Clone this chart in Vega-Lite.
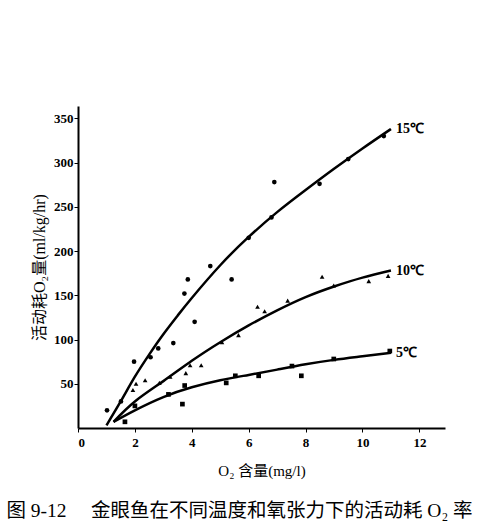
{
  "$schema": "https://vega.github.io/schema/vega-lite/v6.json",
  "autosize": {"type": "none"},
  "width": 367,
  "height": 322,
  "padding": {"left": 78, "top": 106, "right": 45, "bottom": 102},
  "background": "white",
  "config": {
    "view": {"stroke": null},
    "font": "Liberation Serif, Noto Sans CJK SC",
    "axis": {
      "grid": false,
      "domainColor": "black",
      "domainWidth": 2,
      "tickColor": "black",
      "tickSize": 4,
      "labelColor": "black",
      "labelFont": "Liberation Serif",
      "labelFontWeight": "bold",
      "labelFontSize": 13,
      "titleColor": "black",
      "titleFont": "Liberation Serif, Noto Sans CJK SC",
      "titleFontWeight": "normal",
      "titleFontSize": 14
    }
  },
  "title": {
    "text": "图 9-12　 金眼鱼在不同温度和氧张力下的活动耗 O₂ 率",
    "orient": "bottom",
    "anchor": "middle",
    "dx": -22,
    "offset": 24,
    "font": "Liberation Serif, Noto Sans CJK SC",
    "fontSize": 19.5,
    "fontWeight": "normal",
    "color": "black"
  },
  "datasets": {
    "curves": [
      {"temp": "15℃", "o2": 1.0, "rate": 3},
      {"temp": "15℃", "o2": 1.5, "rate": 30},
      {"temp": "15℃", "o2": 2, "rate": 58},
      {"temp": "15℃", "o2": 2.5, "rate": 83},
      {"temp": "15℃", "o2": 3, "rate": 106},
      {"temp": "15℃", "o2": 3.5, "rate": 127},
      {"temp": "15℃", "o2": 4, "rate": 147},
      {"temp": "15℃", "o2": 5, "rate": 184},
      {"temp": "15℃", "o2": 6, "rate": 216},
      {"temp": "15℃", "o2": 7, "rate": 244},
      {"temp": "15℃", "o2": 8, "rate": 269},
      {"temp": "15℃", "o2": 9, "rate": 293},
      {"temp": "15℃", "o2": 10, "rate": 316},
      {"temp": "15℃", "o2": 11, "rate": 338},
      {"temp": "10℃", "o2": 1.25, "rate": 7},
      {"temp": "10℃", "o2": 2, "rate": 30},
      {"temp": "10℃", "o2": 3, "rate": 53},
      {"temp": "10℃", "o2": 4, "rate": 76},
      {"temp": "10℃", "o2": 5, "rate": 97},
      {"temp": "10℃", "o2": 6, "rate": 116},
      {"temp": "10℃", "o2": 7, "rate": 133},
      {"temp": "10℃", "o2": 8, "rate": 148},
      {"temp": "10℃", "o2": 9, "rate": 160},
      {"temp": "10℃", "o2": 10, "rate": 170},
      {"temp": "10℃", "o2": 11, "rate": 178},
      {"temp": "5℃", "o2": 1.25, "rate": 7},
      {"temp": "5℃", "o2": 2, "rate": 20},
      {"temp": "5℃", "o2": 3, "rate": 35},
      {"temp": "5℃", "o2": 4, "rate": 46},
      {"temp": "5℃", "o2": 5, "rate": 54},
      {"temp": "5℃", "o2": 6, "rate": 60},
      {"temp": "5℃", "o2": 7, "rate": 66},
      {"temp": "5℃", "o2": 8, "rate": 72},
      {"temp": "5℃", "o2": 9, "rate": 77},
      {"temp": "5℃", "o2": 10, "rate": 81},
      {"temp": "5℃", "o2": 11, "rate": 85}
    ],
    "obs": [
      {"temp": "15℃", "o2": 1.02, "rate": 20},
      {"temp": "15℃", "o2": 1.51, "rate": 30},
      {"temp": "15℃", "o2": 1.97, "rate": 75},
      {"temp": "15℃", "o2": 2.55, "rate": 80},
      {"temp": "15℃", "o2": 2.82, "rate": 90},
      {"temp": "15℃", "o2": 3.35, "rate": 96},
      {"temp": "15℃", "o2": 3.74, "rate": 152},
      {"temp": "15℃", "o2": 3.86, "rate": 168},
      {"temp": "15℃", "o2": 4.1, "rate": 120},
      {"temp": "15℃", "o2": 4.65, "rate": 183},
      {"temp": "15℃", "o2": 5.4, "rate": 168},
      {"temp": "15℃", "o2": 6.0, "rate": 215},
      {"temp": "15℃", "o2": 6.8, "rate": 238},
      {"temp": "15℃", "o2": 6.9, "rate": 278},
      {"temp": "15℃", "o2": 8.49, "rate": 276},
      {"temp": "15℃", "o2": 9.5, "rate": 304},
      {"temp": "15℃", "o2": 10.75, "rate": 330},
      {"temp": "10℃", "o2": 1.93, "rate": 43},
      {"temp": "10℃", "o2": 2.04, "rate": 50},
      {"temp": "10℃", "o2": 2.36, "rate": 54},
      {"temp": "10℃", "o2": 2.86, "rate": 51},
      {"temp": "10℃", "o2": 3.24, "rate": 58},
      {"temp": "10℃", "o2": 3.79, "rate": 62},
      {"temp": "10℃", "o2": 3.94, "rate": 71},
      {"temp": "10℃", "o2": 4.33, "rate": 71},
      {"temp": "10℃", "o2": 5.06, "rate": 97},
      {"temp": "10℃", "o2": 5.64, "rate": 105},
      {"temp": "10℃", "o2": 6.31, "rate": 137},
      {"temp": "10℃", "o2": 6.56, "rate": 132},
      {"temp": "10℃", "o2": 7.37, "rate": 144},
      {"temp": "10℃", "o2": 8.58, "rate": 171},
      {"temp": "10℃", "o2": 8.99, "rate": 161},
      {"temp": "10℃", "o2": 10.22, "rate": 166},
      {"temp": "10℃", "o2": 10.9, "rate": 172},
      {"temp": "5℃", "o2": 1.65, "rate": 7},
      {"temp": "5℃", "o2": 2.0, "rate": 25},
      {"temp": "5℃", "o2": 3.18, "rate": 38},
      {"temp": "5℃", "o2": 3.67, "rate": 27},
      {"temp": "5℃", "o2": 3.75, "rate": 48},
      {"temp": "5℃", "o2": 5.21, "rate": 51},
      {"temp": "5℃", "o2": 5.53, "rate": 59},
      {"temp": "5℃", "o2": 6.35, "rate": 59},
      {"temp": "5℃", "o2": 7.52, "rate": 70},
      {"temp": "5℃", "o2": 7.85, "rate": 59},
      {"temp": "5℃", "o2": 8.99, "rate": 78},
      {"temp": "5℃", "o2": 10.96, "rate": 87}
    ]
  },
  "encoding": {
    "x": {
      "field": "o2",
      "type": "quantitative",
      "scale": {"domain": [0, 12.9], "nice": false, "zero": true},
      "axis": {"values": [0, 2, 4, 6, 8, 10, 12], "title": "O₂ 含量(mg/l)", "titlePadding": 14, "labelPadding": 4, "titleFontSize": 15}
    },
    "y": {
      "field": "rate",
      "type": "quantitative",
      "scale": {"domain": [0, 364], "nice": false},
      "axis": {"values": [50, 100, 150, 200, 250, 300, 350], "title": "活动耗O₂量(ml/kg/hr)", "titlePadding": 6, "labelPadding": 1, "titleFontSize": 16}
    }
  },
  "layer": [
    {
      "data": {"name": "curves"},
      "mark": {"type": "line", "color": "black", "strokeWidth": 2.5, "interpolate": "natural"},
      "encoding": {"detail": {"field": "temp"}}
    },
    {
      "data": {"name": "obs"},
      "mark": {"type": "point", "filled": true, "color": "black", "opacity": 1, "size": 22},
      "encoding": {
        "shape": {
          "field": "temp",
          "scale": {"domain": ["15℃", "10℃", "5℃"], "range": ["circle", "triangle-up", "square"]},
          "legend": null
        }
      }
    },
    {
      "data": {"name": "curves"},
      "transform": [{"filter": "datum.o2 == 11"}],
      "mark": {"type": "text", "align": "left", "baseline": "middle", "dx": 5, "font": "Liberation Serif", "fontWeight": "bold", "fontSize": 14, "color": "black"},
      "encoding": {"text": {"field": "temp"}}
    }
  ]
}
